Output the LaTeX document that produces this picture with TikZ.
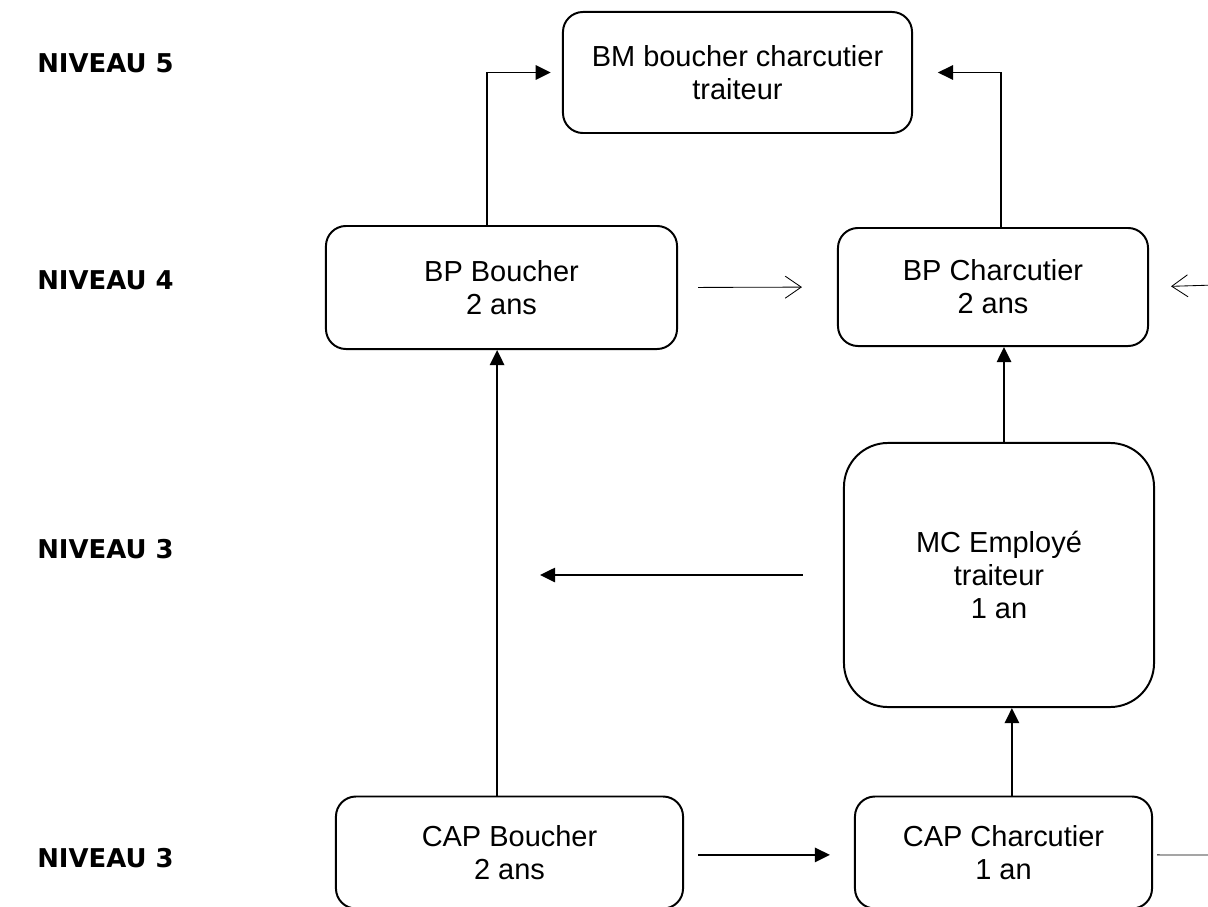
\documentclass[tikz,border=0pt]{standalone}
\usepackage{fontspec}
\setmainfont{Liberation Sans}
\newfontfamily\nivfont{DejaVu Sans}
\usetikzlibrary{arrows.meta}
\usetikzlibrary{positioning}
\tikzstyle{box} = [rectangle, rounded corners=0.5cm, draw=black, line width=1.4pt, align=center, font=\fontsize{20.6}{23.5}\selectfont]
\tikzstyle{niveau} = [anchor=west, inner sep=0pt, font=\nivfont\bfseries\fontsize{18.4}{22}\selectfont]
\tikzstyle{fleche} = [line width=1.4pt, -{Triangle[length=0.38cm,width=0.36cm]}]
\tikzstyle{fin} = [line width=0.6pt, -{Straight Barb[length=0.4cm,width=0.55cm]}]

\begin{document}
\begin{tikzpicture}[x=0.025cm, y=-0.025cm]
\useasboundingbox (0,0) rectangle (1208,906);
\clip (0,0) rectangle (1208,906);

% niveaux
\node (n5) [niveau] at (37,63) {NIVEAU 5};
\node (n4) [niveau] at (37,280) {NIVEAU 4};
\node (n3a) [niveau] at (37,549) {NIVEAU 3};
\node (n3b) [niveau] at (37,858) {NIVEAU 3};

% diplomes
\node (bm) [box, minimum width=8.725cm, minimum height=3.025cm] at (737.5,72.5) {BM boucher charcutier\\traiteur};
\node (bpb) [box, minimum width=8.775cm, minimum height=3.075cm] at (501.5,287.5) {BP Boucher\\2 ans};
\node (bpc) [box, minimum width=7.75cm, minimum height=2.95cm] at (993,287) {BP Charcutier\\2 ans};
\node (mc) [box, rounded corners=1.1cm, minimum width=7.75cm, minimum height=6.6cm] at (999,575) {MC Employé\\traiteur\\1 an};
\node (capb) [box, minimum width=8.675cm, minimum height=2.8cm] at (509.5,852.5) {CAP Boucher\\2 ans};
\node (capc) [box, minimum width=7.425cm, minimum height=2.8cm] at (1003.5,852.5) {CAP Charcutier\\1 an};

% liaisons
\draw[fleche] ([xshift=-0.36cm]bpb.north) |- ([xshift=-0.28cm]bm.west);
\draw[fleche] ([xshift=0.2cm]bpc.north) |- ([xshift=0.62cm]bm.east);
\draw[fin, shorten <=0.5cm, shorten >=0.875cm] (bpb.east) -- (bpc.west);
\coordinate (bord4) at (1215,285);
\draw[fin, shorten >=0.55cm] (bord4) -- (bpc.east);

\coordinate (capbh) at ([xshift=-0.31cm]capb.north);
\draw[fleche] (capbh) -- (capbh |- bpb.south);
\coordinate (mch) at ([xshift=0.125cm]mc.north);
\draw[fleche] (mch) -- (mch |- bpc.south);
\coordinate (capch) at ([xshift=0.21cm]capc.north);
\draw[fleche] (capch) -- (capch |- mc.south);

\coordinate (gauche3) at (540,575);
\draw[fleche, shorten <=1cm] (mc.west) -- (gauche3);
\draw[fleche, shorten <=0.35cm, shorten >=0.6cm] ([yshift=-0.06cm]capb.east) -- ([yshift=-0.06cm]capc.west);
\coordinate (bord3) at (1215,855);
\draw[line width=0.6pt, shorten <=0.1cm] ([yshift=-0.06cm]capc.east) -- (bord3);
\end{tikzpicture}
\end{document}
